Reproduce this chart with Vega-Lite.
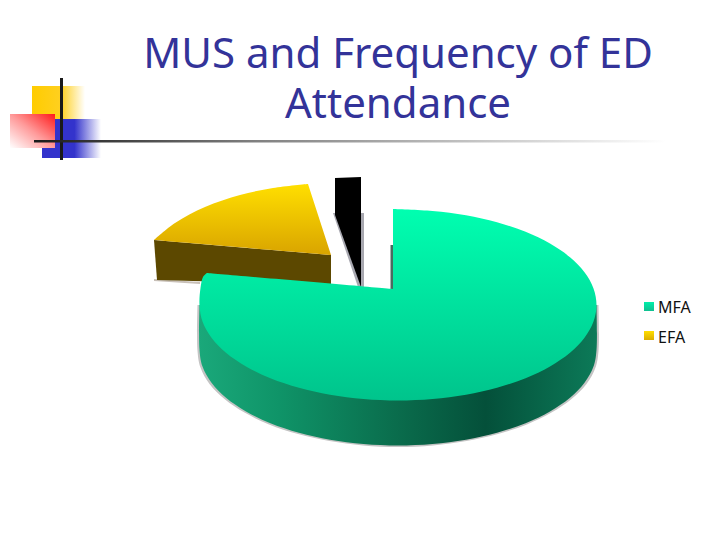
{"$schema":"https://vega.github.io/schema/vega-lite/v6.json","width":720,"height":540,"padding":0,"autosize":{"type":"fit","contains":"padding"},"background":"white","view":{"stroke":null},
"datasets":{"poly":[
{"s":"gshadow","i":0,"x":598.5,"y":305},{"s":"gshadow","i":0.5,"x":598.5,"y":305},{"s":"gshadow","i":1,"x":598.5,"y":351},{"s":"gshadow","i":2,"x":595.5,"y":367.6},{"s":"gshadow","i":3,"x":586.5,"y":384},{"s":"gshadow","i":4,"x":571.5,"y":399},{"s":"gshadow","i":5,"x":551.5,"y":412.6},{"s":"gshadow","i":6,"x":527,"y":424.4},{"s":"gshadow","i":7,"x":498,"y":434},{"s":"gshadow","i":8,"x":466.5,"y":441},{"s":"gshadow","i":9,"x":433,"y":445.4},{"s":"gshadow","i":10,"x":398,"y":447},{"s":"gshadow","i":11,"x":363,"y":445.4},{"s":"gshadow","i":12,"x":329.5,"y":441},{"s":"gshadow","i":13,"x":298,"y":434},{"s":"gshadow","i":14,"x":269,"y":424.4},{"s":"gshadow","i":15,"x":244.5,"y":412.6},{"s":"gshadow","i":16,"x":224.5,"y":399},{"s":"gshadow","i":17,"x":209.5,"y":384},{"s":"gshadow","i":18,"x":200.5,"y":367.6},{"s":"gshadow","i":19,"x":197.5,"y":351},{"s":"gshadow","i":20,"x":197.5,"y":305},{"s":"gshadow","i":20.5,"x":197.5,"y":305},
{"s":"gside","i":0,"x":596.5,"y":305},{"s":"gside","i":0.5,"x":596.5,"y":305},{"s":"gside","i":1,"x":596.5,"y":350},{"s":"gside","i":2,"x":593.5,"y":366.6},{"s":"gside","i":3,"x":584.5,"y":382.7},{"s":"gside","i":4,"x":570,"y":397.8},{"s":"gside","i":5,"x":550,"y":411.4},{"s":"gside","i":6,"x":525.6,"y":423.2},{"s":"gside","i":7,"x":497,"y":432.7},{"s":"gside","i":8,"x":466,"y":439.7},{"s":"gside","i":9,"x":432.5,"y":444},{"s":"gside","i":10,"x":398,"y":445.5},{"s":"gside","i":11,"x":363.5,"y":444},{"s":"gside","i":12,"x":330,"y":439.7},{"s":"gside","i":13,"x":299,"y":432.7},{"s":"gside","i":14,"x":270.4,"y":423.2},{"s":"gside","i":15,"x":246,"y":411.4},{"s":"gside","i":16,"x":226,"y":397.8},{"s":"gside","i":17,"x":211.5,"y":382.7},{"s":"gside","i":18,"x":202.5,"y":366.6},{"s":"gside","i":19,"x":199.5,"y":350},{"s":"gside","i":20,"x":199.5,"y":305},{"s":"gside","i":20.5,"x":199.5,"y":305},
{"s":"gtop","i":0,"x":393,"y":209},{"s":"gtop","i":1,"x":432.5,"y":211},{"s":"gtop","i":2,"x":466,"y":215.3},{"s":"gtop","i":3,"x":497,"y":222.3},{"s":"gtop","i":4,"x":525.6,"y":231.8},{"s":"gtop","i":5,"x":550,"y":243.6},{"s":"gtop","i":6,"x":570,"y":257.3},{"s":"gtop","i":7,"x":584.5,"y":272.3},{"s":"gtop","i":8,"x":593.5,"y":288.4},{"s":"gtop","i":9,"x":596.5,"y":305},{"s":"gtop","i":10,"x":593.5,"y":321.6},{"s":"gtop","i":11,"x":584.5,"y":337.7},{"s":"gtop","i":12,"x":570,"y":352.8},{"s":"gtop","i":13,"x":550,"y":366.4},{"s":"gtop","i":14,"x":525.6,"y":378.2},{"s":"gtop","i":15,"x":497,"y":387.7},{"s":"gtop","i":16,"x":466,"y":394.7},{"s":"gtop","i":17,"x":432.5,"y":399},{"s":"gtop","i":18,"x":398,"y":400.5},{"s":"gtop","i":19,"x":363.5,"y":399},{"s":"gtop","i":20,"x":330,"y":394.7},{"s":"gtop","i":21,"x":299,"y":387.7},{"s":"gtop","i":22,"x":270.4,"y":378.2},{"s":"gtop","i":23,"x":246,"y":366.4},{"s":"gtop","i":24,"x":226,"y":352.8},{"s":"gtop","i":25,"x":211.5,"y":337.7},{"s":"gtop","i":26,"x":202.5,"y":321.6},{"s":"gtop","i":27,"x":199.5,"y":305},{"s":"gtop","i":28,"x":200.5,"y":288},{"s":"gtop","i":29,"x":203,"y":277},{"s":"gtop","i":30,"x":207,"y":273},{"s":"gtop","i":30.5,"x":207,"y":273},{"s":"gtop","i":31,"x":393,"y":289},{"s":"gtop","i":31.5,"x":393,"y":289},
{"s":"gedge","i":0,"x":390.5,"y":245},{"s":"gedge","i":1,"x":393,"y":245},{"s":"gedge","i":2,"x":393,"y":289},{"s":"gedge","i":3,"x":390.5,"y":289},
{"s":"yshadow","i":0,"x":154,"y":279},{"s":"yshadow","i":1,"x":200,"y":282},{"s":"yshadow","i":2,"x":200,"y":284},{"s":"yshadow","i":3,"x":154,"y":281},
{"s":"yside","i":0,"x":154,"y":240},{"s":"yside","i":1,"x":331,"y":255},{"s":"yside","i":2,"x":331,"y":285},{"s":"yside","i":3,"x":157,"y":280},
{"s":"ytop","i":0,"x":308,"y":184},{"s":"ytop","i":1,"x":273,"y":188},{"s":"ytop","i":2,"x":240,"y":195},{"s":"ytop","i":3,"x":205,"y":207},{"s":"ytop","i":4,"x":175,"y":223},{"s":"ytop","i":5,"x":154,"y":240},{"s":"ytop","i":5.5,"x":154,"y":240},{"s":"ytop","i":6,"x":331,"y":255},{"s":"ytop","i":6.5,"x":331,"y":255},
{"s":"kshadow","i":0,"x":333,"y":213},{"s":"kshadow","i":1,"x":364,"y":213},{"s":"kshadow","i":2,"x":364,"y":287},{"s":"kshadow","i":3,"x":358,"y":287},
{"s":"ktop","i":0,"x":335,"y":178},{"s":"ktop","i":1,"x":361,"y":177},{"s":"ktop","i":2,"x":361,"y":287},{"s":"ktop","i":3,"x":335,"y":215}
],"rects":[
{"s":"yellow","x":32,"x2":85,"y":86,"y2":119},
{"s":"blue","x":42,"x2":101,"y":119,"y2":158},
{"s":"red","x":10,"x2":55,"y":114,"y2":148},
{"s":"vline","x":60,"x2":63,"y":78,"y2":160},
{"s":"hline","x":34,"x2":666,"y":140,"y2":142.5},
{"s":"MFA","x":644,"x2":654,"y":302,"y2":311},
{"s":"EFA","x":644,"x2":654,"y":331,"y2":340}
],"titles":[{"t":"MUS and Frequency of ED","x":398,"y":68},{"t":"Attendance","x":398,"y":118}],
"labels":[{"t":"MFA","x":658,"y":313},{"t":"EFA","x":658,"y":343}]},
"encoding":{},
"layer":[
{"data":{"name":"rects"},"transform":[{"filter":"datum.s=='yellow'"}],"mark":{"type":"rect","fill":{"gradient":"linear","x1":0,"y1":0,"x2":1,"y2":0,"stops":[{"offset":0,"color":"#ffcc00"},{"offset":0.55,"color":"#ffd020"},{"offset":1,"color":"#ffffff"}]}},"encoding":{"x":{"field":"x","type":"quantitative","scale":{"domain":[0,720],"range":[0,720]},"axis":null},"x2":{"field":"x2"},"y":{"field":"y","type":"quantitative","scale":{"domain":[0,540],"range":[0,540]},"axis":null},"y2":{"field":"y2"}}},
{"data":{"name":"rects"},"transform":[{"filter":"datum.s=='blue'"}],"mark":{"type":"rect","fill":{"gradient":"linear","x1":0,"y1":0,"x2":1,"y2":0,"stops":[{"offset":0,"color":"#3333cc"},{"offset":0.55,"color":"#3333cc"},{"offset":1,"color":"#ffffff"}]}},"encoding":{"x":{"field":"x","type":"quantitative","scale":{"domain":[0,720],"range":[0,720]},"axis":null},"x2":{"field":"x2"},"y":{"field":"y","type":"quantitative","scale":{"domain":[0,540],"range":[0,540]},"axis":null},"y2":{"field":"y2"}}},
{"data":{"name":"rects"},"transform":[{"filter":"datum.s=='red'"}],"mark":{"type":"rect","fill":{"gradient":"linear","x1":1,"y1":0,"x2":0,"y2":1,"stops":[{"offset":0,"color":"#ff1a1a"},{"offset":0.5,"color":"#ff9a9a"},{"offset":1,"color":"#ffffff"}]}},"encoding":{"x":{"field":"x","type":"quantitative","scale":{"domain":[0,720],"range":[0,720]},"axis":null},"x2":{"field":"x2"},"y":{"field":"y","type":"quantitative","scale":{"domain":[0,540],"range":[0,540]},"axis":null},"y2":{"field":"y2"}}},
{"data":{"name":"rects"},"transform":[{"filter":"datum.s=='vline'"}],"mark":{"type":"rect","fill":"#1a1a1a"},"encoding":{"x":{"field":"x","type":"quantitative","scale":{"domain":[0,720],"range":[0,720]},"axis":null},"x2":{"field":"x2"},"y":{"field":"y","type":"quantitative","scale":{"domain":[0,540],"range":[0,540]},"axis":null},"y2":{"field":"y2"}}},
{"data":{"name":"rects"},"transform":[{"filter":"datum.s=='hline'"}],"mark":{"type":"rect","fill":{"gradient":"linear","x1":0,"y1":0,"x2":1,"y2":0,"stops":[{"offset":0,"color":"#1a1a1a"},{"offset":0.35,"color":"#808080"},{"offset":1,"color":"#ffffff"}]}},"encoding":{"x":{"field":"x","type":"quantitative","scale":{"domain":[0,720],"range":[0,720]},"axis":null},"x2":{"field":"x2"},"y":{"field":"y","type":"quantitative","scale":{"domain":[0,540],"range":[0,540]},"axis":null},"y2":{"field":"y2"}}},
{"data":{"name":"titles"},"mark":{"type":"text","font":"Noto Sans","fontSize":42,"fill":"#333399","align":"center","baseline":"alphabetic"},"encoding":{"x":{"field":"x","type":"quantitative","scale":{"domain":[0,720],"range":[0,720]},"axis":null},"y":{"field":"y","type":"quantitative","scale":{"domain":[0,540],"range":[0,540]},"axis":null},"text":{"field":"t"}}},
{"data":{"name":"poly"},"transform":[{"filter":"datum.s=='yshadow'"}],"mark":{"type":"line","fill":"#c8c0b8","stroke":null},"encoding":{"x":{"field":"x","type":"quantitative","scale":{"domain":[0,720],"range":[0,720]},"axis":null},"y":{"field":"y","type":"quantitative","scale":{"domain":[0,540],"range":[0,540]},"axis":null},"order":{"field":"i"}}},
{"data":{"name":"poly"},"transform":[{"filter":"datum.s=='yside'"}],"mark":{"type":"line","fill":"#5c4800","stroke":null},"encoding":{"x":{"field":"x","type":"quantitative","scale":{"domain":[0,720],"range":[0,720]},"axis":null},"y":{"field":"y","type":"quantitative","scale":{"domain":[0,540],"range":[0,540]},"axis":null},"order":{"field":"i"}}},
{"data":{"name":"poly"},"transform":[{"filter":"datum.s=='ytop'"}],"mark":{"type":"line","interpolate":"catmull-rom","fill":{"gradient":"linear","x1":0,"y1":0,"x2":0,"y2":1,"stops":[{"offset":0,"color":"#ffdf00"},{"offset":1,"color":"#d9a400"}]},"stroke":null},"encoding":{"x":{"field":"x","type":"quantitative","scale":{"domain":[0,720],"range":[0,720]},"axis":null},"y":{"field":"y","type":"quantitative","scale":{"domain":[0,540],"range":[0,540]},"axis":null},"order":{"field":"i"}}},
{"data":{"name":"poly"},"transform":[{"filter":"datum.s=='kshadow'"}],"mark":{"type":"line","fill":"#a8a8b0","stroke":null},"encoding":{"x":{"field":"x","type":"quantitative","scale":{"domain":[0,720],"range":[0,720]},"axis":null},"y":{"field":"y","type":"quantitative","scale":{"domain":[0,540],"range":[0,540]},"axis":null},"order":{"field":"i"}}},
{"data":{"name":"poly"},"transform":[{"filter":"datum.s=='ktop'"}],"mark":{"type":"line","fill":"#000000","stroke":null},"encoding":{"x":{"field":"x","type":"quantitative","scale":{"domain":[0,720],"range":[0,720]},"axis":null},"y":{"field":"y","type":"quantitative","scale":{"domain":[0,540],"range":[0,540]},"axis":null},"order":{"field":"i"}}},
{"data":{"name":"poly"},"transform":[{"filter":"datum.s=='gedge'"}],"mark":{"type":"line","fill":"#4a6a60","stroke":null},"encoding":{"x":{"field":"x","type":"quantitative","scale":{"domain":[0,720],"range":[0,720]},"axis":null},"y":{"field":"y","type":"quantitative","scale":{"domain":[0,540],"range":[0,540]},"axis":null},"order":{"field":"i"}}},
{"data":{"name":"poly"},"transform":[{"filter":"datum.s=='gshadow'"}],"mark":{"type":"line","interpolate":"catmull-rom","fill":"#c4c4c4","stroke":null},"encoding":{"x":{"field":"x","type":"quantitative","scale":{"domain":[0,720],"range":[0,720]},"axis":null},"y":{"field":"y","type":"quantitative","scale":{"domain":[0,540],"range":[0,540]},"axis":null},"order":{"field":"i"}}},
{"data":{"name":"poly"},"transform":[{"filter":"datum.s=='gside'"}],"mark":{"type":"line","interpolate":"catmull-rom","fill":{"gradient":"linear","x1":0,"y1":0,"x2":1,"y2":0,"stops":[{"offset":0,"color":"#1aa87a"},{"offset":0.2,"color":"#0f9468"},{"offset":0.5,"color":"#0a6c4c"},{"offset":0.72,"color":"#04503a"},{"offset":1,"color":"#0c7a58"}]},"stroke":null},"encoding":{"x":{"field":"x","type":"quantitative","scale":{"domain":[0,720],"range":[0,720]},"axis":null},"y":{"field":"y","type":"quantitative","scale":{"domain":[0,540],"range":[0,540]},"axis":null},"order":{"field":"i"}}},
{"data":{"name":"poly"},"transform":[{"filter":"datum.s=='gtop'"}],"mark":{"type":"line","interpolate":"catmull-rom","fill":{"gradient":"linear","x1":0,"y1":0,"x2":0,"y2":1,"stops":[{"offset":0,"color":"#00ffb0"},{"offset":1,"color":"#00c48c"}]},"stroke":null},"encoding":{"x":{"field":"x","type":"quantitative","scale":{"domain":[0,720],"range":[0,720]},"axis":null},"y":{"field":"y","type":"quantitative","scale":{"domain":[0,540],"range":[0,540]},"axis":null},"order":{"field":"i"}}},
{"data":{"name":"rects"},"transform":[{"filter":"datum.s=='MFA'"}],"mark":{"type":"rect","fill":{"gradient":"linear","x1":0,"y1":0,"x2":0,"y2":1,"stops":[{"offset":0,"color":"#00eeaa"},{"offset":1,"color":"#10c090"}]}},"encoding":{"x":{"field":"x","type":"quantitative","scale":{"domain":[0,720],"range":[0,720]},"axis":null},"x2":{"field":"x2"},"y":{"field":"y","type":"quantitative","scale":{"domain":[0,540],"range":[0,540]},"axis":null},"y2":{"field":"y2"}}},
{"data":{"name":"rects"},"transform":[{"filter":"datum.s=='EFA'"}],"mark":{"type":"rect","fill":{"gradient":"linear","x1":0,"y1":0,"x2":0,"y2":1,"stops":[{"offset":0,"color":"#ffdf00"},{"offset":1,"color":"#dcae00"}]}},"encoding":{"x":{"field":"x","type":"quantitative","scale":{"domain":[0,720],"range":[0,720]},"axis":null},"x2":{"field":"x2"},"y":{"field":"y","type":"quantitative","scale":{"domain":[0,540],"range":[0,540]},"axis":null},"y2":{"field":"y2"}}},
{"data":{"name":"labels"},"mark":{"type":"text","font":"Noto Sans","fontSize":16,"fill":"#111111","align":"left","baseline":"alphabetic"},"encoding":{"x":{"field":"x","type":"quantitative","scale":{"domain":[0,720],"range":[0,720]},"axis":null},"y":{"field":"y","type":"quantitative","scale":{"domain":[0,540],"range":[0,540]},"axis":null},"text":{"field":"t"}}}
]}
